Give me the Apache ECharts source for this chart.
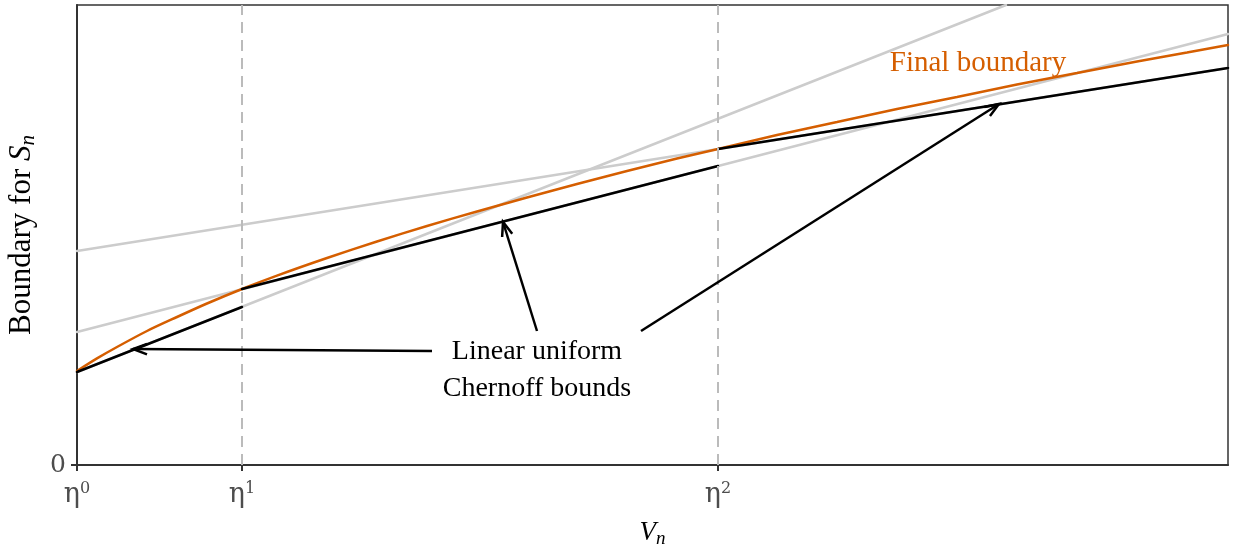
<!DOCTYPE html>
<html>
<head>
<meta charset="utf-8">
<script src="https://cdn.jsdelivr.net/npm/echarts@6/dist/echarts.min.js"></script>
<style>
  html, body { margin: 0; padding: 0; background: #ffffff; }
  #chart { width: 1233px; height: 548px; }
</style>
</head>
<body>
<div id="chart"></div>
<script>
// ---- data (V_n in plot units, boundary value in plot units) ----
const etaPositions = [0, 165, 641];
const etaPowers = ['0', '1', '2'];
const dashedEtas = [165, 641];

// final (curved) boundary
const finalX = [0, 20, 40, 70, 100, 130, 165, 200, 250, 300, 350, 400, 450, 500, 550, 600, 641, 700, 760, 820, 880, 940, 1000, 1060, 1110, 1151];
const finalY = [94, 106.6, 118, 134, 148, 161.5, 176, 189.4, 207, 223.5, 239, 253.5, 267.5, 281, 294, 306.5, 316, 330, 343, 356, 368, 380.5, 392, 403.5, 412.5, 420];

// full linear bounds (gray), one per epoch
const grayB = [[0, 93], [929, 460]];
const grayA = [[0, 133], [1151, 431]];
const grayC = [[0, 214], [1151, 397]];

// the active pieces of the linear bounds (black)
const black0 = [[0, 93], [165, 158]];
const black1 = [[165, 176], [641, 299]];
const black2 = [[641, 316], [1151, 397]];

// annotation arrows: [fromX, fromY, toX, toY]
const arrows = [
  [355, 114, 56, 116],
  [460, 134, 426, 243],
  [564, 134, 922, 361]
];

// annotation texts
const noteX = [460, 460];
const noteY = [113.5, 76.5];
const noteText = ['Linear uniform', 'Chernoff bounds'];
const finalLabel = { x: 901, y: 402, text: 'Final boundary' };

// ---- chart ----
const ORANGE = '#D55E00';
const GRAY = '#cccccc';
const SERIF = '"Liberation Serif", "DejaVu Serif", serif';
const TICKFONT = '"DejaVu Serif", serif';

const finalData = finalX.map((x, i) => [x, finalY[i]]);

function lineSeries(data, color, z) {
  return {
    type: 'line', data: data, showSymbol: false, symbol: 'none', silent: true,
    lineStyle: { color: color, width: 2.5, cap: 'round' }, z: z, animation: false
  };
}

const chart = echarts.init(document.getElementById('chart'), null, { renderer: 'canvas' });

chart.setOption({
  animation: false,
  backgroundColor: '#ffffff',
  grid: {
    left: 77, right: 5, top: 5, bottom: 83, containLabel: false, outerBoundsMode: 'none',
    show: true, borderColor: '#333333', borderWidth: 1.5, backgroundColor: 'transparent'
  },
  xAxis: {
    type: 'value', min: 0, max: 1151,
    name: '{i|V}{s|n}', nameLocation: 'middle', nameGap: 53,
    nameTextStyle: {
      rich: {
        i: { fontFamily: SERIF, fontStyle: 'italic', fontSize: 27, lineHeight: 30, color: '#000' },
        s: { fontFamily: SERIF, fontStyle: 'italic', fontSize: 19, lineHeight: 12, verticalAlign: 'bottom', color: '#000' }
      }
    },
    axisLine: { show: true, lineStyle: { color: '#333333', width: 2 } },
    axisTick: { show: true, customValues: etaPositions, length: 6, lineStyle: { color: '#333333', width: 2 } },
    axisLabel: {
      show: true, customValues: etaPositions, margin: 16,
      formatter: v => '{e|η}{s|' + etaPowers[etaPositions.indexOf(v)] + '}',
      rich: {
        e: { fontFamily: TICKFONT, fontSize: 27, lineHeight: 28, color: '#4d4d4d' },
        s: { fontFamily: TICKFONT, fontSize: 16, lineHeight: 18, verticalAlign: 'top', color: '#4d4d4d' }
      }
    },
    splitLine: { show: false }
  },
  yAxis: {
    type: 'value', min: 0, max: 460,
    name: '{a|Boundary for }{i|S}{s|n}', nameLocation: 'middle', nameGap: 36, nameRotate: 90,
    nameTextStyle: {
      rich: {
        a: { fontFamily: SERIF, fontSize: 31, lineHeight: 34, color: '#000' },
        i: { fontFamily: SERIF, fontStyle: 'italic', fontSize: 31, lineHeight: 34, color: '#000' },
        s: { fontFamily: SERIF, fontStyle: 'italic', fontSize: 21, lineHeight: 14, verticalAlign: 'bottom', color: '#000' }
      }
    },
    axisLine: { show: true, lineStyle: { color: '#333333', width: 2 } },
    axisTick: { show: true, customValues: [0], length: 6, lineStyle: { color: '#333333', width: 2 } },
    axisLabel: {
      show: true, customValues: [0], margin: 11, formatter: v => String(v),
      color: '#4d4d4d', fontFamily: TICKFONT, fontSize: 25
    },
    splitLine: { show: false }
  },
  series: [
    {
      type: 'line', data: [], silent: true, z: 1,
      markLine: {
        silent: true, symbol: ['none', 'none'], label: { show: false },
        lineStyle: { color: '#bbbbbb', width: 2, type: [11, 7] },
        data: dashedEtas.map(v => ({ xAxis: v }))
      }
    },
    lineSeries(grayB, GRAY, 2),
    lineSeries(grayA, GRAY, 2),
    lineSeries(grayC, GRAY, 2),
    Object.assign(lineSeries(finalData, ORANGE, 3), { smooth: 0.3 }),
    lineSeries(black0, '#000000', 4),
    lineSeries(black1, '#000000', 4),
    lineSeries(black2, '#000000', 4),
    {
      type: 'custom', silent: true, z: 5, data: arrows,
      renderItem: function (params, api) {
        const p1 = api.coord([api.value(0), api.value(1)]);
        const p2 = api.coord([api.value(2), api.value(3)]);
        const ang = Math.atan2(p2[1] - p1[1], p2[0] - p1[0]);
        const L = 15, spread = 0.36;
        const w1 = [p2[0] - L * Math.cos(ang - spread), p2[1] - L * Math.sin(ang - spread)];
        const w2 = [p2[0] - L * Math.cos(ang + spread), p2[1] - L * Math.sin(ang + spread)];
        const st = { stroke: '#000', lineWidth: 2.5, fill: null };
        return {
          type: 'group',
          children: [
            { type: 'line', shape: { x1: p1[0], y1: p1[1], x2: p2[0], y2: p2[1] }, style: st },
            { type: 'polyline', shape: { points: [w1, p2, w2] }, style: st }
          ]
        };
      }
    },
    {
      type: 'custom', silent: true, z: 6,
      data: noteX.map((x, i) => [x, noteY[i], i]),
      renderItem: function (params, api) {
        const p = api.coord([api.value(0), api.value(1)]);
        return {
          type: 'text', x: p[0], y: p[1],
          style: { text: noteText[api.value(2)], fill: '#000', font: '28px ' + SERIF, align: 'center', verticalAlign: 'middle' }
        };
      }
    },
    {
      type: 'custom', silent: true, z: 6,
      data: [[finalLabel.x, finalLabel.y]],
      renderItem: function (params, api) {
        const p = api.coord([api.value(0), api.value(1)]);
        return {
          type: 'text', x: p[0], y: p[1],
          style: { text: finalLabel.text, fill: ORANGE, font: '29px ' + SERIF, align: 'center', verticalAlign: 'middle' }
        };
      }
    }
  ]
});
</script>
</body>
</html>
